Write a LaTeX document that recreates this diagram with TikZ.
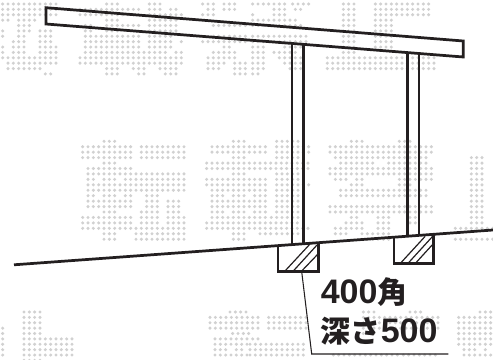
\documentclass[tikz,border=0pt]{standalone}
\usepackage{fontspec}
\newfontfamily\jp{Noto Sans CJK JP}
\newfontfamily\lat{Liberation Sans}
\newcommand{\kan}[1]{{\jp\bfseries\fontsize{22.5}{26}\selectfont #1}}
\tikzset{
  heavy/.style={line width=2.05pt,draw=inkc,line join=miter},
  hatchline/.style={line width=0.9pt,draw=inkc},
  leaderline/.style={line width=0.8pt,draw=inkc},
  labeltext/.style={anchor=base west,inner sep=0pt,text=inkc,font=\lat\bfseries\fontsize{25.5}{26}\selectfont}
}
\definecolor{inkc}{HTML}{231F20}
\definecolor{dotc}{gray}{0.82}
% #1 x offset px, #2 y of first row px, #3 row step px, #4 list row/start/end in zoomed px
\newcommand{\dotblock}[4]{%
  \foreach \r/\a/\b in {#4}{%
    \pgfmathsetmacro{\yy}{#2+#3*\r}%
    \pgfmathsetmacro{\nn}{int(round((\b-\a)/16))}%
    \foreach \k in {0,...,\nn}{%
      \fill[dotc] ({#1+(\a+16*\k)/3},\yy) circle (1.7);
    }%
  }%
}
\begin{document}
\begin{tikzpicture}[x=0.75pt,y=-0.75pt]
\useasboundingbox (0,0) rectangle (493,360);
\begin{scope}
\clip (0,0) rectangle (493,360);
% watermark, top left
\dotblock{0}{4}{5.38}{0/8/168,0/320/352,0/448/480,0/608/640,0/672/704,
1/8/168,1/240/416,1/448/480,1/512/528,1/624/640,1/672/704,
2/8/168,2/240/416,2/448/544,2/608/640,
3/8/24,3/56/104,3/320/352,3/448/528,
4/56/88,4/256/272,4/320/416,4/448/528,4/640/736,
5/8/8,5/56/88,5/120/152,5/256/272,5/320/352,5/448/528,
6/8/8,6/56/72,6/120/152,6/256/416,6/448/512,6/640/736,
7/40/72,7/120/152,7/256/416,7/448/512,7/544/544,7/608/736,
8/8/8,8/40/72,8/120/168,8/256/416,8/448/512,8/672/688,
9/8/8,9/40/72,9/120/168,9/256/416,9/432/496,9/528/544,9/640/704,
10/8/168,10/240/544,10/624/704,
11/24/168,11/240/544,11/624/672,11/704/736,
12/24/120,12/320/352,12/400/432,12/480/528,12/624/656,12/704/736,
13/136/152,13/320/352,13/416/432,13/496/528,13/704/736}
% watermark, top right
\dotblock{250}{4}{5.38}{0/8/56,0/72/104,0/128/168,0/280/312,0/376/528,
1/72/104,1/136/152,1/280/312,1/376/528,
2/8/8,2/72/104,2/280/312,2/376/528,
3/8/136,3/280/312,3/376/424,
4/8/152,4/280/312,4/376/424,
5/280/312,5/376/424,
6/8/168,6/280/312,6/376/424,
7/8/168,7/280/312,7/376/424,
8/8/40,8/104/104,8/120/152,8/280/312,8/376/424,
9/8/40,9/72/104,9/120/136,9/280/312,
10/8/40,10/88/152,10/232/544,
11/8/40,11/104/152,11/232/544,
12/8/40,12/120/152,12/232/544,
13/8/24}
% watermark, middle left
\dotblock{60}{141.3}{5.44}{0/132/164,
1/68/212,1/244/372,1/456/568,
2/68/212,2/244/372,2/456/568,
3/68/212,3/244/372,
4/132/164,4/440/568,
5/84/212,5/440/568,
6/84/372,0/520/552,3/520/552,6/520/552,
7/84/100,7/132/164,7/196/372,7/440/568,
8/84/372,8/440/568,
9/84/372,9/456/568,
10/84/100,10/132/164,10/196/212,10/260/292,10/456/488,10/520/552,
11/84/212,11/260/292,11/324/356,11/456/568,
12/84/212,12/260/292,12/324/356,12/456/568,
13/132/164,13/244/292,13/324/356,13/456/488,13/520/552,
14/68/212,14/244/292,14/324/372,14/456/568,
15/68/212,15/244/292,15/324/372,15/440/568,
16/68/372,16/440/568,
17/132/164,17/228/372,17/520/552,
18/132/164,18/228/372,18/520/552}
% watermark, middle right
\dotblock{250}{141.3}{5.44}{0/80/144,
1/14/46,1/80/176,2/14/46,2/80/176,
3/80/144,
4/14/176,5/14/176,
6/80/144,
7/14/46,7/80/144,
8/14/46,8/80/176,
9/14/46,9/80/144,
10/14/46,10/80/144,
11/14/46,11/80/144,
12/14/46,12/80/144,
13/14/46,13/80/144,
14/14/46,14/64/144,
15/14/144,
16/14/176,
17/30/62,17/80/144,
0/304/336,0/448/480,
1/240/544,2/240/544,
3/256/528,
4/272/368,4/416/528,
5/240/544,6/240/544,
7/256/288,7/320/336,7/448/544,
8/304/336,8/448/480,
9/272/528,10/272/528,
12/240/544,13/240/544,
14/304/320,14/384/416,14/480/496,
15/288/336,15/384/416,15/480/496,
16/256/336,16/384/416,
17/256/288,17/336/416,
18/336/416,
3/664/696,4/664/696,5/664/696,6/664/696,7/664/696,8/664/696,9/664/696,
10/664/696,11/664/696,12/664/696,13/664/696,14/664/696,15/664/696,
16/616/728,18/616/728}
% watermark, bottom left
\dotblock{0}{312}{5.38}{0/72/120,0/690/738,
1/72/120,1/630/742,2/72/120,2/630/742,
3/8/8,3/72/120,3/630/742,
4/8/8,4/72/120,4/698/746,
5/8/8,5/72/216,5/645/741,
6/8/8,6/72/216,6/645/741,
7/8/8,7/72/216,7/645/677,7/709/725,
8/8/8,8/72/216,8/645/741,
9/72/120}
% watermark, bottom right
\dotblock{250}{312}{5.38}{0/340/372,0/480/512,0/690/722,
1/8/24,1/56/168,1/340/564,1/626/722,
2/8/24,2/56/168,2/340/564,2/626/722,
3/8/24,3/56/168,3/340/564,3/626/722,
4/340/372,4/626/722,
5/8/24,5/626/722,
6/0/160,6/626/722,
7/0/160,7/642/674,7/706/706,
8/0/160,8/250/442,8/460/556,8/642/722}
\end{scope}
% coordinates
\coordinate (btl) at (46,7.7);
\coordinate (btr) at (463.3,41);
\coordinate (bbr) at (463.3,57);
\coordinate (bbl) at (46,24);
\coordinate (gl) at (14,264.8);
\coordinate (gr) at (493,230);
\coordinate (fa) at (301.7,271.7);
\coordinate (fb) at (311.7,354);
\coordinate (fc) at (448.3,354);
% posts
\draw[heavy] (292,44) -- (292,244);
\draw[heavy] (303.3,45) -- (303.3,243);
\draw[heavy] (407.7,53) -- (407.7,236);
\draw[heavy] (419,54) -- (419,235);
% hatching
\draw[hatchline] (285,271) -- (310,244);
\draw[hatchline] (293.3,271) -- (317,245);
\draw[hatchline] (301.7,271) -- (318,254);
\draw[hatchline] (400.7,263) -- (425,236.5);
\draw[hatchline] (408.3,263) -- (432.5,236.5);
\draw[hatchline] (415.7,263) -- (433.5,243.5);
% footings
\draw[heavy] (278,246) -- (278,271.7) -- (318.3,271.7) -- (318.3,243);
\draw[heavy] (394,237.5) -- (394,263.3) -- (433.7,263.3) -- (433.7,234.5);
% ground and beam
\draw[heavy] (gl) -- (gr);
\draw[heavy] (btl) -- (btr) -- (bbr) -- (bbl) -- cycle;
% leader
\draw[leaderline] (fa) -- (fb) -- (fc);
% labels
\node[labeltext] (lab1) at (320.5,303.5) {400\kan{角}};
\node[labeltext] (lab2) at (320.5,342.5) {\kan{深さ}500};
\end{tikzpicture}
\end{document}
